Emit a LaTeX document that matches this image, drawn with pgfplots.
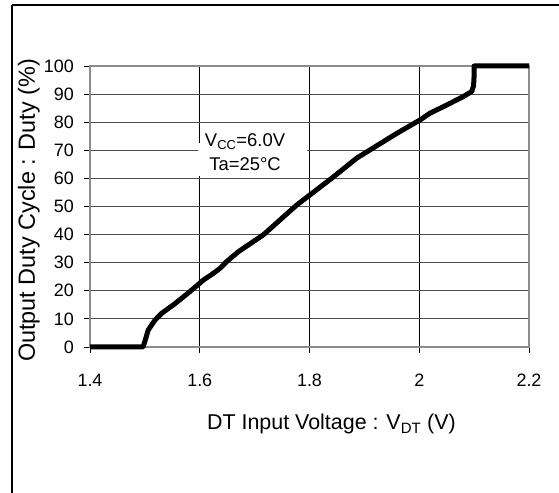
\documentclass[border=0pt]{standalone}
\usepackage{fontspec}
\setmainfont{Liberation Sans}
\usepackage{pgfplots}
\pgfplotsset{compat=1.18}

\begin{document}
\begin{tikzpicture}[x=1bp,y=1bp]
\useasboundingbox (0,0) rectangle (559,493);
% outer frame (top and left only)
\draw[line width=1.3bp] (12,488) -- (559,488);
\draw[line width=1.3bp] (12,488) -- (12,0);
\begin{axis}[
    at={(90bp,146bp)}, anchor=south west,
    scale only axis, width=439bp, height=281bp,
    xmin=1.4, xmax=2.2, ymin=0, ymax=100,
    xtick={1.4,1.6,1.8,2.0,2.2},
    ytick={0,10,...,100},
    xticklabels={1.4,1.6,1.8,2,2.2},
    tick align=outside,
    major tick length=6bp,
    xtick pos=bottom, ytick pos=left,
    tick style={black, line width=0.8bp},
    axis line style={black!45, line width=2.2bp},
    grid=major,
    x grid style={black, line width=0.8bp},
    y grid style={black!70, line width=0.9bp},
    /pgf/number format/assume math mode=true,
    ticklabel style={font=\fontsize{18}{21}\selectfont},
    yticklabel style={anchor=east, inner sep=0pt, xshift=-10bp},
    xticklabel style={anchor=base, inner sep=0pt, yshift=-34bp},
    xlabel={DT Input Voltage : V\textsubscript{DT} (V)},
    ylabel={Output Duty Cycle : Duty (\%)},
    xlabel style={font=\fontsize{21.5}{25}\selectfont, at={(axis description cs:0.55,-0.295)}, anchor=base, inner sep=0pt},
    ylabel style={font=\fontsize{23.5}{27}\selectfont, at={(axis description cs:-0.1253,0.486)}, anchor=base, rotate=0, inner sep=0pt},
    clip=false,
]
\addplot[black, line width=5bp, line join=round] coordinates {
    (1.400,0) (1.4966,0) (1.500,2) (1.506,6) (1.5185,9.6) (1.5307,12)
    (1.552,15) (1.582,19.7) (1.6065,23.8) (1.6247,26.2) (1.637,28)
    (1.649,30.4) (1.6703,33.9) (1.7158,39.9) (1.7766,50.5) (1.8434,60.5)
    (1.886,67.2) (1.910,70.1) (1.9589,76) (2.0014,80.8) (2.0196,83.2)
    (2.05,86.1) (2.080,89.1) (2.0956,90.9) (2.0990,93) (2.0998,96)
    (2.100,100) (2.200,100)
};
\fill[white] (axis cs:1.597,61) rectangle (axis cs:1.7954,72.6);
\node[align=center, font=\fontsize{18.5}{24}\selectfont, inner sep=0pt]
    at (axis cs:1.6825,69.4) {V\textsubscript{CC}=6.0V\\Ta=25°C};
\end{axis}
\end{tikzpicture}
\end{document}
